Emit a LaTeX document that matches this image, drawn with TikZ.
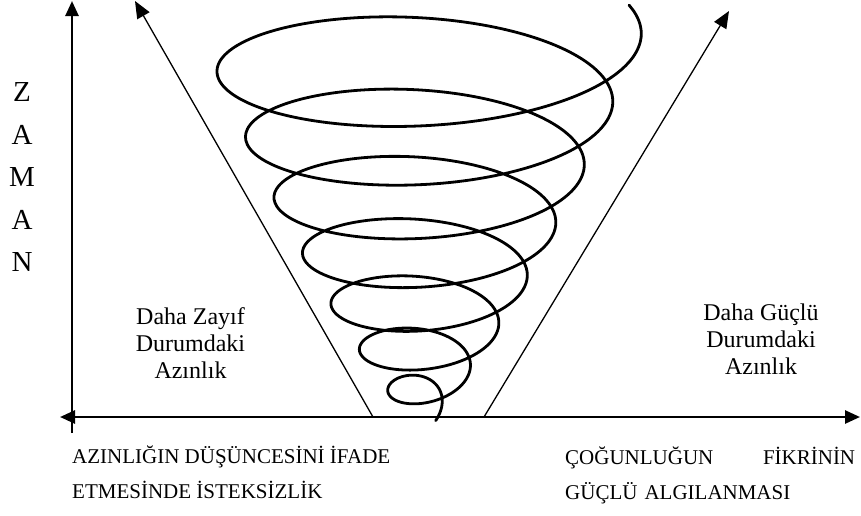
\documentclass[tikz,border=0pt]{standalone}
\usepackage{fontspec}
\setmainfont{Liberation Serif}
\usetikzlibrary{arrows.meta}

\begin{document}
\begin{tikzpicture}[x=1pt,y=-1pt,>={Triangle[length=15pt,width=13pt]}]
    \tikzstyle{axisline}=[line width=2.6pt]
    \tikzstyle{diag}=[line width=1.3pt,-{Triangle[length=17pt,width=14pt]}]
    \tikzstyle{spiral}=[line width=2.8pt,line cap=round,line join=round]
    \tikzstyle{minority}=[align=center,inner sep=0pt,font=\fontsize{24}{27}\selectfont]
    \tikzstyle{axistext}=[align=left,inner sep=0pt,font=\fontsize{21}{35}\selectfont]
    \useasboundingbox (0,0) rectangle (861,515);
    % axes
    \coordinate (bot) at (72,433);
    \coordinate (top) at (72,1);
    \coordinate (west) at (60,417);
    \coordinate (east) at (860,417);
    \draw[axisline,->] (bot) -- (top);
    \draw[axisline,<->] (west) -- (east);
    % the cone
    \coordinate (lfoot) at (373,417);
    \coordinate (ltip) at (135,1);
    \coordinate (rfoot) at (484,417);
    \coordinate (rtip) at (729,11);
    \draw[diag] (lfoot) -- (ltip);
    \draw[diag] (rfoot) -- (rtip);
    % spiral
    \draw[spiral] plot[domain=-0.1:7.06,samples=600,smooth,variable=\u]
        ({422+(19.75+28.5*(\u))*cos(360*\u)},
         {388-38*(\u-0.5)-2.5*(\u-0.5)*(\u-0.5)-(19+8*(\u))*sin(360*\u)});
    % texts
    \node[align=center,inner sep=0pt,font=\fontsize{29}{42.5}\selectfont] (zaman) at (22,177) {Z\\A\\M\\A\\N};
    \node[minority] (weak) at (190.5,343) {Daha Zayıf\\Durumdaki\\Azınlık};
    \node[minority] (strong) at (761,339) {Daha Güçlü\\Durumdaki\\Azınlık};
    \node[axistext,anchor=west] (reluct) at (72,472) {AZINLIĞIN DÜŞÜNCESİNİ İFADE\\ETMESİNDE İSTEKSİZLİK};
    \node[axistext,anchor=west,text width=290pt] (major) at (565,475) {ÇOĞUNLUĞUN \hfill FİKRİNİN\\GÜÇLÜ ALGILANMASI};
\end{tikzpicture}
\end{document}
